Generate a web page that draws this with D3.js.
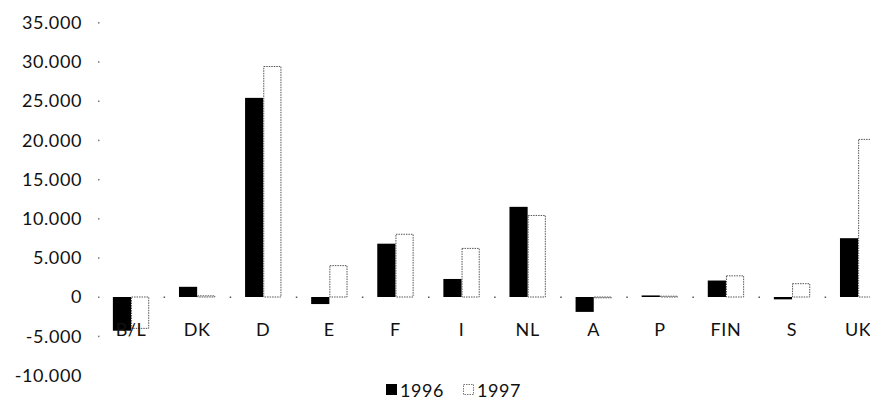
<!DOCTYPE html>
<html><head><meta charset="utf-8">
<script src="https://cdn.jsdelivr.net/npm/d3@7"></script>
<style>
body{margin:0;background:#fff;}
text{font-family:Lato,"Open Sans",sans-serif;fill:#111;}
</style></head>
<body><svg id="c" width="870" height="418"></svg>
<script>
const categories = ["B/L","DK","D","E","F","I","NL","A","P","FIN","S","UK"];
const values1996 = [-4300, 1300, 25400, -900, 6800, 2300, 11500, -1900, 200, 2100, -300, 7500];
const values1997 = [-4000, 150, 29400, 4000, 8000, 6200, 10400, -100, 100, 2700, 1700, 20100];
const seriesNames = ["1996","1997"];
const yTicks = [-10000,-5000,0,5000,10000,15000,20000,25000,30000,35000];

const svg = d3.select("#c");
const left = 98, catW = 66.1;
const x = d3.scaleBand().domain(categories).range([left, left + catW*categories.length]).paddingInner(0.45).paddingOuter(0.225);
const xs = d3.scaleBand().domain(seriesNames).range([0, x.bandwidth()]);
const y = d3.scaleLinear().domain([-10000, 35000]).range([375.4, 22.6]);
const locale = d3.formatLocale({decimal:",", thousands:".", grouping:[3], currency:["",""], minus:"-"});
const fmt = locale.format(",d");

// y tick labels
svg.append("g").selectAll("text").data(yTicks).join("text")
  .attr("x", 82).attr("y", d => y(d)).attr("dy","0.35em")
  .attr("text-anchor","end").attr("font-size",18).attr("letter-spacing",0.6)
  .text(d => fmt(d));
// y tick dots
svg.append("g").selectAll("rect").data(yTicks.filter(d=>d>-10000)).join("rect")
  .attr("x", left).attr("y", d => y(d)-0.5).attr("width",1.5).attr("height",1.5).attr("fill","#777");
// x boundary dots on zero line
const bounds = categories.map((c,i)=>left + catW*i).concat([left+catW*categories.length]);
svg.append("g").selectAll("rect").data(bounds.slice(1)).join("rect")
  .attr("x", d=>d-0.5).attr("y", y(0)-0.5).attr("width",1.5).attr("height",1.5).attr("fill","#555");

const data = categories.map((c,i)=>({c, v:[values1996[i], values1997[i]]}));
const g = svg.append("g");
data.forEach(d => {
  d.v.forEach((v,k) => {
    const s = seriesNames[k];
    const y0 = y(Math.max(0,v)), h = Math.abs(y(v)-y(0));
    const r = g.append("rect")
      .attr("x", x(d.c)+xs(s)).attr("y", y0)
      .attr("width", xs.bandwidth()).attr("height", Math.max(h,0.8));
    if (k===0) r.attr("fill","#000");
    else r.attr("fill","#fff").attr("stroke","#555").attr("stroke-width",1).attr("stroke-dasharray","1.5,1")
      .attr("x", x(d.c)+xs(s)+0.5).attr("width", xs.bandwidth()-1);
  });
});

// category labels
svg.append("g").selectAll("text").data(categories).join("text")
  .attr("x", d => x(d)+x.bandwidth()/2).attr("y", 330).attr("dy","0.35em")
  .attr("text-anchor","middle").attr("font-size",18).attr("letter-spacing",0.6)
  .text(d=>d);

// legend
const lg = svg.append("g");
lg.append("rect").attr("x",386).attr("y",384).attr("width",11).attr("height",11).attr("fill","#000");
lg.append("text").attr("x",400).attr("y",391).attr("dy","0.35em").attr("font-size",18).attr("letter-spacing",0.6).text(seriesNames[0]);
lg.append("rect").attr("x",463.5).attr("y",384.5).attr("width",10).attr("height",10).attr("fill","#fff").attr("stroke","#777").attr("stroke-dasharray","1.5,1");
lg.append("text").attr("x",477).attr("y",391).attr("dy","0.35em").attr("font-size",18).attr("letter-spacing",0.6).text(seriesNames[1]);
</script></body></html>
